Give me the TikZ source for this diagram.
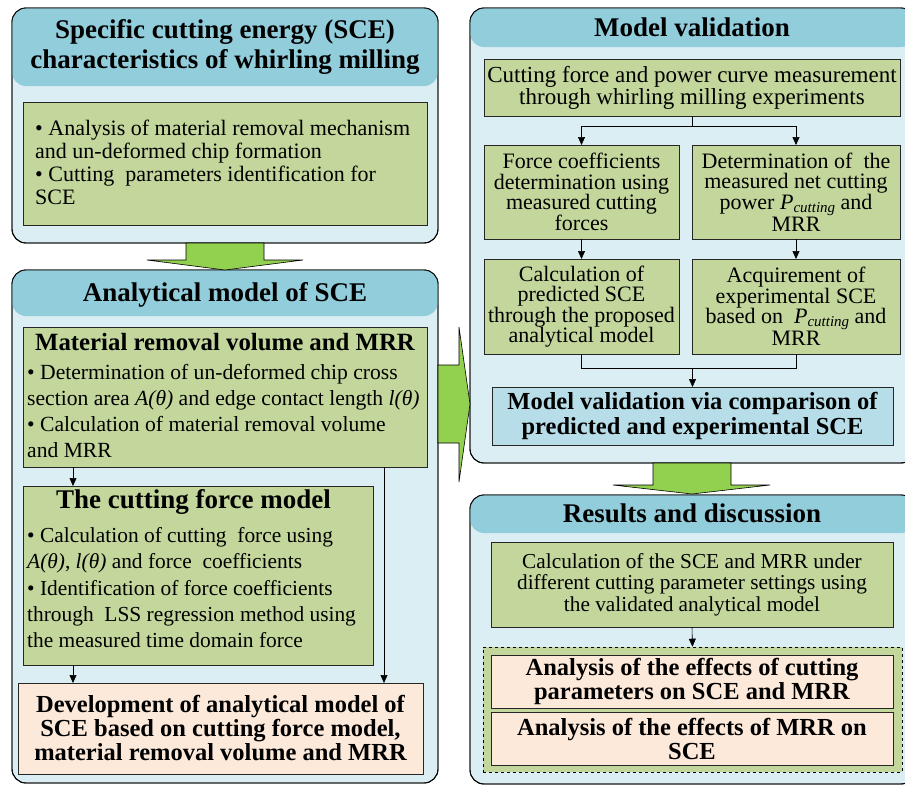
\documentclass[tikz,border=0pt]{standalone}
\usepackage{fontspec}
\setmainfont{Liberation Serif}
\usetikzlibrary{arrows.meta,calc}
\definecolor{hdr}{HTML}{92CDDC}
\definecolor{cfill}{HTML}{DBEEF4}
\definecolor{gboxc}{HTML}{C3D69B}
\definecolor{pboxc}{HTML}{FCE9DA}
\definecolor{bboxc}{HTML}{B7DEE8}
\definecolor{garrow}{HTML}{92D050}
\newcommand\Pcut{\textit{P}\raisebox{-0.3ex}{\fontsize{15}{15}\selectfont\itshape cutting}}
\begin{document}
\begin{tikzpicture}[x=1pt,y=-1pt,
  cont/.style={draw=black, line width=0.9pt, rounded corners=14pt, fill=cfill},
  band/.style={fill=hdr, rounded corners=14pt},
  bx/.style={draw=black!85, line width=0.7pt, inner ysep=0pt, outer sep=0pt},
  gb/.style={bx, fill=gboxc},
  pb/.style={bx, fill=pboxc},
  boldf/.style={font=\fontsize{24.5}{24}\selectfont\bfseries},
  htext/.style={font=\fontsize{27}{30}\selectfont\bfseries, align=center},
  arr/.style={-{Triangle[length=8pt,width=7pt]}, line width=0.6pt},
  bigarrow/.style={fill=garrow, draw=black, line width=0.6pt}]
\useasboundingbox (0,0) rectangle (905,785);

% containers
\draw[cont] (12,8) rectangle (438,243);
\fill[band] (12,8) rectangle (438,86);
\draw[cont,fill=none] (12,8) rectangle (438,243);
\draw[cont] (12,270) rectangle (438,783);
\fill[band] (12,270) rectangle (438,316);
\draw[cont,fill=none] (12,270) rectangle (438,783);
\draw[cont] (470,8) rectangle (915,463);
\fill[band] (470,8) rectangle (915,47);
\draw[cont,fill=none] (470,8) rectangle (915,463);
\draw[cont] (470,495) rectangle (915,784);
\fill[band] (470,495) rectangle (915,533);
\draw[cont,fill=none] (470,495) rectangle (915,784);

% headers
\node[htext] (h1) at (225,47) {Specific cutting energy (SCE)\\characteristics of whirling milling};
\node[htext] (h2) at (225,295) {Analytical model of SCE};
\node[htext] (h3) at (692,27) {Model validation};
\node[htext] (h4) at (692,513) {Results and discussion};

% left boxes
\node[gb, minimum width=404pt, minimum height=123pt] (g1) at (225,163.5) {};
\node[anchor=west, align=left, inner sep=0pt, font=\fontsize{22}{23}\selectfont] (g1t) at (35,162)
  {• Analysis of material removal mechanism\\and un-deformed chip formation\\• Cutting\ \ parameters identification for\\SCE};
\node[gb, minimum width=404pt, minimum height=140pt] (mrr) at (225,397) {};
\node[font=\fontsize{24.8}{25}\selectfont\bfseries, inner sep=0pt] (mrrt) at (225,342) {Material removal volume and MRR};
\node[anchor=west, align=left, inner sep=0pt, font=\fontsize{21.6}{26}\selectfont] (mrrb) at (27,411)
  {• Determination of un-deformed chip cross\\
   section area \textit{A(θ)} and edge contact length \textit{l(θ)}\\
   • Calculation of material removal volume\\
   and MRR};
\node[gb, minimum width=350pt, minimum height=179pt] (cfm) at (198,575.5) {};
\node[font=\fontsize{27}{27}\selectfont\bfseries, inner sep=0pt] (cfmt) at (193.5,502) {The cutting force model};
\node[anchor=west, align=left, inner sep=0pt, font=\fontsize{21.4}{26.2}\selectfont] (cfmb) at (27,587.6)
  {• Calculation of cutting\ \ force using\\
   \textit{A(θ)}, \textit{l(θ)} and force\ \ coefficients\\
   • Identification of force coefficients\\
   through\ \ LSS regression method using\\
   the measured time domain force};
\node[pb, minimum width=405pt, minimum height=91pt, align=center, boldf] (dev) at (220.5,728.5)
  {Development of analytical model of\\SCE based on cutting force model,\\material removal volume and MRR};

% right boxes
\node[gb, minimum width=416pt, minimum height=57pt, align=center, font=\fontsize{23}{22}\selectfont] (cfp) at (692,87.5)
  {Cutting force and power curve measurement\\through whirling milling experiments};
\node[gb, minimum width=195pt, minimum height=94pt, align=center, font=\fontsize{22}{20.5}\selectfont] (fc) at (581.5,192)
  {Force coefficients\\determination using\\measured cutting\\forces};
\node[gb, minimum width=208pt, minimum height=94pt, align=center, font=\fontsize{22}{20.5}\selectfont] (det) at (796,192)
  {Determination of\ \ the\\measured net cutting\\power \Pcut{} and\\MRR};
\node[gb, minimum width=195pt, minimum height=95pt, align=center, font=\fontsize{22}{20.5}\selectfont] (calc) at (581.5,306.5)
  {Calculation of\\predicted SCE\\through the proposed\\analytical model};
\node[gb, minimum width=208pt, minimum height=95pt, align=center, font=\fontsize{22}{20.5}\selectfont] (acq) at (796,306.5)
  {Acquirement of\\experimental SCE\\based on\ \ \Pcut{} and\\MRR};
\node[bx, fill=bboxc, minimum width=401pt, minimum height=58pt, align=center, font=\fontsize{24.5}{25}\selectfont\bfseries] (mv) at (692.5,416)
  {Model validation via comparison of\\predicted and experimental SCE};
\node[gb, minimum width=402pt, minimum height=85pt, align=center, font=\fontsize{21.3}{21.5}\selectfont] (calc2) at (692,584.5)
  {Calculation of the SCE and MRR under\\different cutting parameter settings using\\the validated analytical model};
\node[draw=black, dashed, line width=0.6pt, fill=gboxc, minimum width=419pt, minimum height=125pt, inner sep=0pt] (dfr) at (692.5,709.5) {};
\node[pb, minimum width=402pt, minimum height=53pt, align=center, boldf] (p1) at (692,681.5)
  {Analysis of the effects of cutting\\parameters on SCE and MRR};
\node[pb, minimum width=402pt, minimum height=53pt, align=center, boldf] (p2) at (692,738.5)
  {Analysis of the effects of MRR on\\SCE};

% connectors left
\draw[arr] ([xshift=50pt]mrr.south west) -- ([xshift=50pt]mrr.south west |- cfm.north);
\draw[arr] ([xshift=50pt]cfm.south west) -- ([xshift=50pt]cfm.south west |- dev.north);
\draw[arr] ([xshift=-43pt]mrr.south east) -- ([xshift=-43pt]mrr.south east |- dev.north);

% connectors right
\draw[line width=0.6pt] (cfp.south) -- ++(0,10) coordinate (sp);
\draw[arr] (sp) -| (fc.north);
\draw[arr] (sp) -| (det.north);
\draw[arr] (fc.south) -- (calc.north);
\draw[arr] (det.south) -- (acq.north);
\draw[line width=0.6pt] (calc.south) -- ++(0,14) -| (acq.south);
\draw[arr] (mv.north |- calc.south) ++(0,14) -- (mv.north);
\draw[arr] (calc2.south) -- (dfr.north);

% big arrows
\draw[bigarrow] (186,243) -- (264,243) -- (264,260) -- (303,260) -- (225,270) -- (147,260) -- (186,260) -- cycle;
\draw[bigarrow] (438,365) -- (459,365) -- (459,327) -- (470,404) -- (459,482) -- (459,443) -- (438,443) -- cycle;
\draw[bigarrow] (653,463) -- (731,463) -- (731,485) -- (770,485) -- (692,494) -- (613,485) -- (653,485) -- cycle;
\end{tikzpicture}
\end{document}
